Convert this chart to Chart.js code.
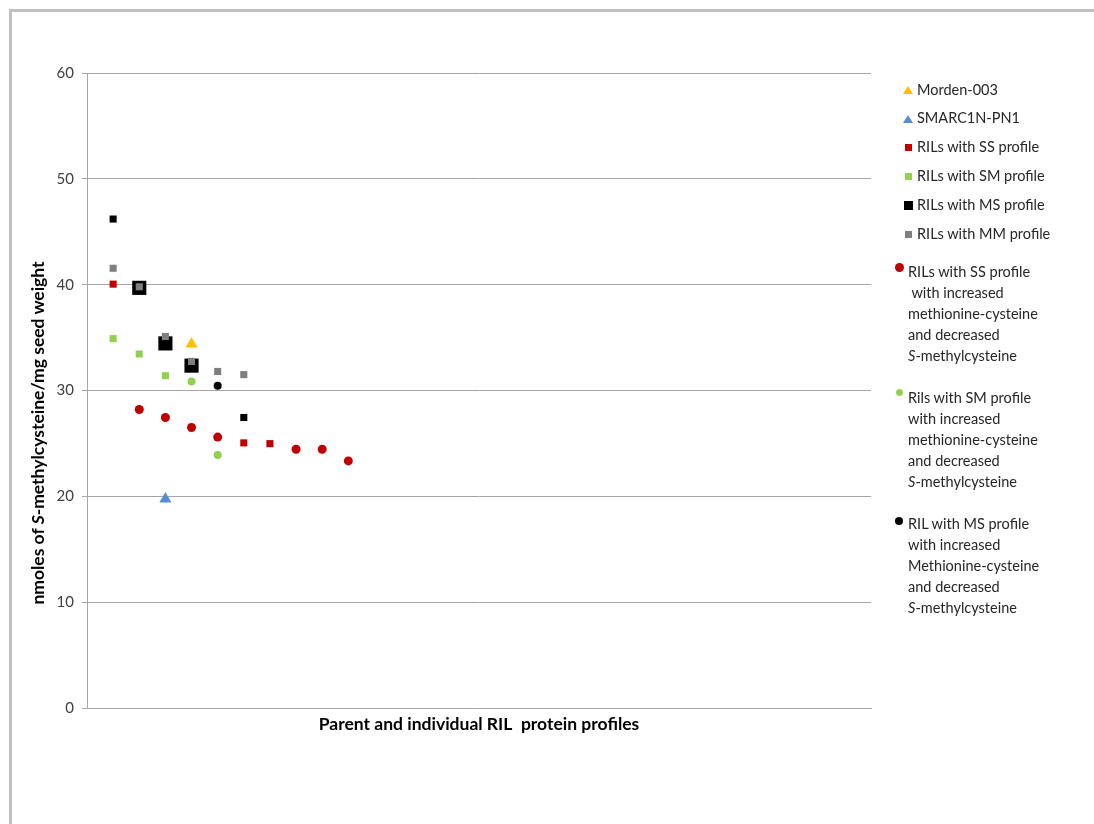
<!DOCTYPE html>
<html>
<head>
<meta charset="utf-8">
<script src="https://cdn.jsdelivr.net/npm/chart.js@4/dist/chart.umd.min.js"></script>
<style>
  body { margin: 0; background: #fff; overflow: hidden; }
  #wrap { position: relative; width: 1094px; height: 824px; }
  #frame { position: absolute; left: 9px; top: 9px; right: 0; bottom: 0;
    border-top: 3px solid #c0c0c0; border-left: 3px solid #c0c0c0; }
  #yTitle { position: absolute; left: 37px; top: 433px; transform: translate(-50%, -50%) rotate(-90deg);
    white-space: nowrap; font: bold 17.5px Lato, sans-serif; color: #000; }
  .leg { position: absolute; font: 14.5px Lato, sans-serif; color: #262626; white-space: pre; line-height: 21px; }
  .mk { position: absolute; }
</style>
</head>
<body>
<div id="wrap">
  <div id="frame"></div>
  <canvas id="plot"></canvas>
  <div id="yTitle">nmoles of <i>S</i>-methylcysteine/mg seed weight</div>
  <div id="legend"></div>
</div>
<script>
// y axis ticks
const yTicks = [0, 10, 20, 30, 40, 50, 60];

// series values (x = position of the RIL along the axis, y = nmoles/mg)
const mordenX = [4];
const mordenY = [34.4];
const smarcX = [3];
const smarcY = [19.75];
const ssSquareX = [1, 6, 7];
const ssSquareY = [40.05, 25.05, 24.98];
const smSquareX = [1, 2, 3];
const smSquareY = [34.9, 33.45, 31.4];
const msSquareX = [1, 2, 3, 4, 6];
const msSquareY = [46.2, 39.7, 34.45, 32.35, 27.45];
const mmSquareX = [1, 2, 3, 4, 5, 6];
const mmSquareY = [41.55, 39.8, 35.1, 32.75, 31.8, 31.5];
const ssCircleX = [2, 3, 4, 5, 8, 9, 10];
const ssCircleY = [28.2, 27.45, 26.5, 25.6, 24.45, 24.45, 23.35];
const smCircleX = [4, 5];
const smCircleY = [30.85, 23.9];
const msCircleX = [5];
const msCircleY = [30.45];

function pts(xs, ys) {
  return xs.map((x, i) => ({ x: x, y: ys[i] }));
}

const RED = '#c00000', GREEN = '#92d050', BLACK = '#000000', GREY = '#7f7f7f';

const datasets = [
  { label: 'Morden-003', data: pts(mordenX, mordenY), pointStyle: 'triangle', pointRadius: 7, backgroundColor: '#ffc000', borderWidth: 0, order: 1 },
  { label: 'SMARC1N-PN1', data: pts(smarcX, smarcY), pointStyle: 'triangle', pointRadius: 7, backgroundColor: '#558ed5', borderWidth: 0, order: 1 },
  { label: 'RILs with SS profile', data: pts(ssSquareX, ssSquareY), pointStyle: 'rect', pointRadius: 5, backgroundColor: RED, borderWidth: 0, order: 1 },
  { label: 'RILs with SM profile', data: pts(smSquareX, smSquareY), pointStyle: 'rect', pointRadius: 5, backgroundColor: GREEN, borderWidth: 0, order: 1 },
  { label: 'RILs with MS profile', data: pts(msSquareX, msSquareY), pointStyle: 'rect', pointRadius: [5, 10, 10, 10, 5], backgroundColor: BLACK, borderWidth: 0, order: 3 },
  { label: 'RILs with MM profile', data: pts(mmSquareX, mmSquareY), pointStyle: 'rect', pointRadius: 5, backgroundColor: GREY, borderWidth: 0, order: 2 },
  { label: 'RILs with SS profile (circles)', data: pts(ssCircleX, ssCircleY), pointStyle: 'circle', pointRadius: 4.5, backgroundColor: RED, borderWidth: 0, order: 1 },
  { label: 'Rils with SM profile (circles)', data: pts(smCircleX, smCircleY), pointStyle: 'circle', pointRadius: 4, backgroundColor: GREEN, borderWidth: 0, order: 1 },
  { label: 'RIL with MS profile (circle)', data: pts(msCircleX, msCircleY), pointStyle: 'circle', pointRadius: 4, backgroundColor: BLACK, borderWidth: 0, order: 1 }
];

const chart = new Chart(document.getElementById('plot'), {
  type: 'scatter',
  data: { datasets: datasets },
  options: {
    responsive: true,
    maintainAspectRatio: false,
    animation: false,
    layout: { padding: { left: 0, top: 73, right: 223, bottom: 0 } },
    plugins: { legend: { display: false }, tooltip: { enabled: false } },
    scales: {
      x: {
        type: 'linear',
        min: 0,
        max: 30,
        ticks: { display: false },
        grid: { display: false, drawTicks: false },
        border: { display: true, color: '#a6a6a6', width: 1 },
        title: {
          display: true,
          text: 'Parent and individual RIL  protein profiles',
          color: '#000',
          font: { family: 'Lato', size: 17.5, weight: 'bold' },
          padding: { top: 0, bottom: 89 }
        },
        afterFit: function (scale) { scale.height = 116; }
      },
      y: {
        min: 0,
        max: 60,
        afterBuildTicks: function (scale) { scale.ticks = yTicks.map(v => ({ value: v })); },
        ticks: { color: '#404040', padding: 8, font: { family: 'Lato', size: 15 } },
        grid: { color: '#a6a6a6', tickLength: 5, lineWidth: 1 },
        border: { display: true, color: '#a6a6a6' },
        afterFit: function (scale) { scale.width = 87; }
      }
    }
  }
});

// legend (HTML, placed on the right like the original)
const legendItems = [
  { shape: 'tri', color: '#ffc000', size: 10, cy: 90, text: 'Morden-003', tx: 917, ty: 89 },
  { shape: 'tri', color: '#558ed5', size: 10, cy: 119, text: 'SMARC1N-PN1', tx: 917, ty: 117 },
  { shape: 'sq', color: RED, size: 7, cy: 147, text: 'RILs with SS profile', tx: 917, ty: 146 },
  { shape: 'sq', color: GREEN, size: 7, cy: 176, text: 'RILs with SM profile', tx: 917, ty: 175 },
  { shape: 'sq', color: BLACK, size: 9, cy: 205, text: 'RILs with MS profile', tx: 917, ty: 204 },
  { shape: 'sq', color: GREY, size: 7, cy: 234, text: 'RILs with MM profile', tx: 917, ty: 233 },
  { shape: 'dot', color: RED, size: 9, cy: 267, tx: 908, ty: 271,
    html: 'RILs with SS profile\n with increased\nmethionine-cysteine\nand decreased\n<i>S</i>-methylcysteine' },
  { shape: 'dot', color: GREEN, size: 7, cy: 392, tx: 908, ty: 397,
    html: 'Rils with SM profile\nwith increased\nmethionine-cysteine\nand decreased\n<i>S</i>-methylcysteine' },
  { shape: 'dot', color: BLACK, size: 8, cy: 521, tx: 908, ty: 523,
    html: 'RIL with MS profile\nwith increased\nMethionine-cysteine\nand decreased\n<i>S</i>-methylcysteine' }
];

const legend = document.getElementById('legend');
legendItems.forEach(function (it) {
  const mk = document.createElement('div');
  mk.className = 'mk';
  const cx = it.shape === 'dot' ? 899 : 908;
  if (it.shape === 'tri') {
    const h = Math.round(it.size * 0.8);
    mk.style.left = (cx - it.size / 2) + 'px';
    mk.style.top = (it.cy - h / 2) + 'px';
    mk.style.width = '0';
    mk.style.height = '0';
    mk.style.borderLeft = (it.size / 2) + 'px solid transparent';
    mk.style.borderRight = (it.size / 2) + 'px solid transparent';
    mk.style.borderBottom = h + 'px solid ' + it.color;
  } else {
    mk.style.left = (cx - it.size / 2) + 'px';
    mk.style.top = (it.cy - it.size / 2) + 'px';
    mk.style.width = it.size + 'px';
    mk.style.height = it.size + 'px';
    mk.style.background = it.color;
    if (it.shape === 'dot') mk.style.borderRadius = '50%';
  }
  legend.appendChild(mk);

  const tx = document.createElement('div');
  tx.className = 'leg';
  tx.style.left = it.tx + 'px';
  tx.style.top = (it.ty - 10.5) + 'px';
  if (it.html) tx.innerHTML = it.html; else tx.textContent = it.text;
  legend.appendChild(tx);
});
</script>
</body>
</html>
